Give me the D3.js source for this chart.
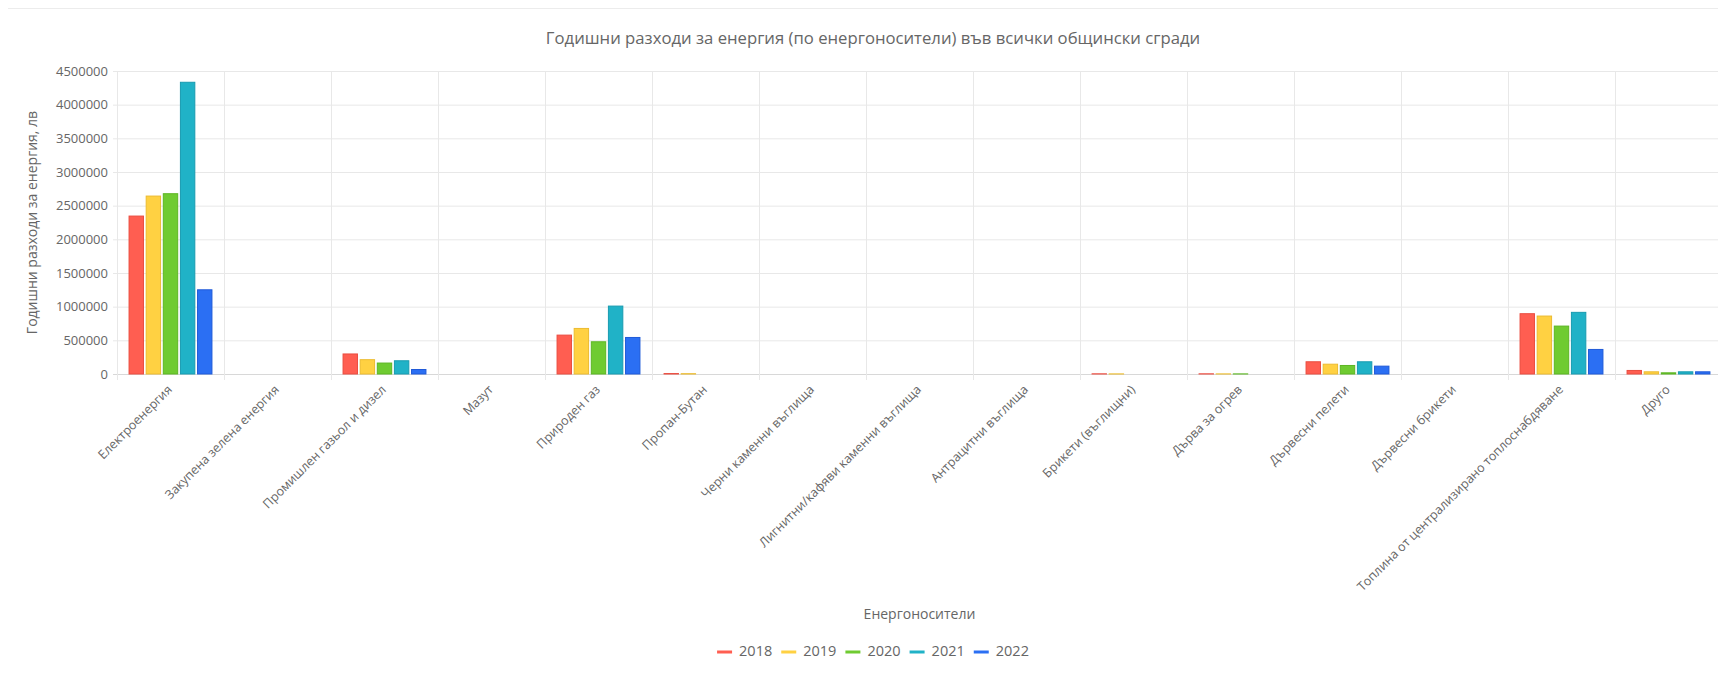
<!DOCTYPE html>
<html>
<head>
<meta charset="utf-8">
<script src="https://cdn.jsdelivr.net/npm/d3@7"></script>
<style>
  html, body { margin: 0; padding: 0; background: #fff; overflow: hidden; }
  svg { display: block; font-family: "Open Sans", "Noto Sans", sans-serif; }
</style>
</head>
<body>
<svg id="chart" width="1718" height="681"></svg>
<script>
// Energy carriers (x categories)
const categories = [
  "Електроенергия",
  "Закупена зелена енергия",
  "Промишлен газьол и дизел",
  "Мазут",
  "Природен газ",
  "Пропан-Бутан",
  "Черни каменни въглища",
  "Лигнитни/кафяви каменни въглища",
  "Антрацитни въглища",
  "Брикети (въглищни)",
  "Дърва за огрев",
  "Дървесни пелети",
  "Дървесни брикети",
  "Топлина от централизирано топлоснабдяване",
  "Друго"
];

const years = ["2018", "2019", "2020", "2021", "2022"];

// Annual energy costs, лв, one array per year (same order as categories)
const values2018 = [2353000, 0, 305000, 0, 585000, 14000, 0, 0, 0, 10000, 10000, 189000, 0, 903000, 60000];
const values2019 = [2650000, 0, 220000, 0, 684000, 12000, 0, 0, 0, 9000, 9000, 153000, 0, 868000, 40000];
const values2020 = [2685000, 0, 170000, 0, 486000, 0, 0, 0, 0, 0, 9000, 134000, 0, 719000, 25000];
const values2021 = [4340000, 0, 204000, 0, 1016000, 0, 0, 0, 0, 0, 0, 189000, 0, 923000, 40000];
const values2022 = [1258000, 0, 74000, 0, 550000, 0, 0, 0, 0, 0, 0, 124000, 0, 372000, 40000];

const yTickValues = [0, 500000, 1000000, 1500000, 2000000, 2500000, 3000000, 3500000, 4000000, 4500000];

const seriesValues = [values2018, values2019, values2020, values2021, values2022];
const fillColors   = ["#ff5e51", "#ffd142", "#6fcb31", "#20b2c7", "#2b6ff3"];
const strokeColors = ["#ea4c40", "#ecbb30", "#5cb523", "#189bb0", "#1f5ad8"];

const svg = d3.select("#chart");
const W = 1718, H = 681;
const plot = { left: 117, right: 1722, top: 71, bottom: 374 };
const textColor = "#666";

// card border line at the top
svg.append("line")
  .attr("x1", 8).attr("x2", W).attr("y1", 8.5).attr("y2", 8.5)
  .attr("stroke", "#ececec").attr("stroke-width", 1);

// title
svg.append("text")
  .attr("x", 873).attr("y", 40)
  .attr("text-anchor", "middle").attr("dominant-baseline", "middle")
  .attr("fill", textColor).attr("font-size", 16.7)
  .text("Годишни разходи за енергия (по енергоносители) във всички общински сгради");

const x = d3.scaleBand().domain(categories).range([plot.left, plot.right]).padding(0);
const bw = x.bandwidth();
const xInner = d3.scaleBand().domain(years)
  .range([0.1 * bw, 0.9 * bw]).paddingInner(0.1).paddingOuter(0.05);
const y = d3.scaleLinear().domain([0, 4500000]).range([plot.bottom, plot.top]);

// horizontal gridlines + y axis labels
const yAxis = d3.axisLeft(y).tickValues(yTickValues).tickFormat(d3.format("d"))
  .tickSize(-(plot.right - plot.left + 4)).tickPadding(5);
const gy = svg.append("g").attr("transform", `translate(${plot.left - 4},0)`).call(yAxis);
gy.select(".domain").remove();
gy.selectAll(".tick line")
  .attr("stroke", d => d === 0 ? "#d8d8d8" : "#e8e8e8");
gy.selectAll(".tick text")
  .attr("fill", textColor).attr("font-size", 13).attr("font-family", "Open Sans");

// vertical gridlines at category boundaries
const boundaries = categories.map(c => x(c));
svg.append("g").selectAll("line").data(boundaries).join("line")
  .attr("x1", d => d + 0.5).attr("x2", d => d + 0.5)
  .attr("y1", plot.top).attr("y2", plot.bottom + 6)
  .attr("stroke", "#e8e8e8");

// bars
const barData = [];
seriesValues.forEach((vals, si) => {
  vals.forEach((v, ci) => { if (v > 0) barData.push({ si, cat: categories[ci], v }); });
});
svg.append("g").selectAll("rect").data(barData).join("rect")
  .attr("x", d => x(d.cat) + xInner(years[d.si]) + 0.5)
  .attr("width", xInner.bandwidth() - 1)
  .attr("y", d => y(d.v) + 0.5)
  .attr("height", d => Math.max(0, y(0) - y(d.v) - 0.5))
  .attr("fill", d => fillColors[d.si])
  .attr("stroke", d => strokeColors[d.si])
  .attr("stroke-width", 1);

// rotated category labels
svg.append("g").selectAll("text").data(categories).join("text")
  .attr("transform", d => `translate(${x(d) + bw / 2},${plot.bottom + 14}) rotate(-45)`)
  .attr("text-anchor", "end").attr("dominant-baseline", "middle")
  .attr("fill", textColor).attr("font-size", 12.5)
  .text(d => d);

// axis titles
svg.append("text")
  .attr("transform", `translate(33,${(plot.top + plot.bottom) / 2}) rotate(-90)`)
  .attr("text-anchor", "middle").attr("dominant-baseline", "middle")
  .attr("fill", textColor).attr("font-size", 14)
  .text("Годишни разходи за енергия, лв");

svg.append("text")
  .attr("x", (plot.left + plot.right) / 2).attr("y", 615)
  .attr("text-anchor", "middle").attr("dominant-baseline", "middle")
  .attr("fill", textColor).attr("font-size", 14)
  .text("Енергоносители");

// legend
const legend = svg.append("g");
const items = legend.selectAll("g").data(years).join("g");
items.append("line")
  .attr("x1", 0).attr("x2", 15).attr("y1", 0).attr("y2", 0)
  .attr("stroke", (d, i) => fillColors[i]).attr("stroke-width", 3);
items.append("text")
  .attr("x", 22).attr("y", 0).attr("dominant-baseline", "middle")
  .attr("fill", textColor).attr("font-size", 14.5)
  .text(d => d);
const widths = [];
items.each(function () {
  const tw = d3.select(this).select("text").node().getComputedTextLength();
  widths.push(22 + tw);
});
const gap = 9;
const total = d3.sum(widths) + gap * (widths.length - 1);
let cx = 873 - total / 2;
items.attr("transform", (d, i) => {
  const t = `translate(${cx},652)`;
  cx += widths[i] + gap;
  return t;
});
</script>
</body>
</html>
